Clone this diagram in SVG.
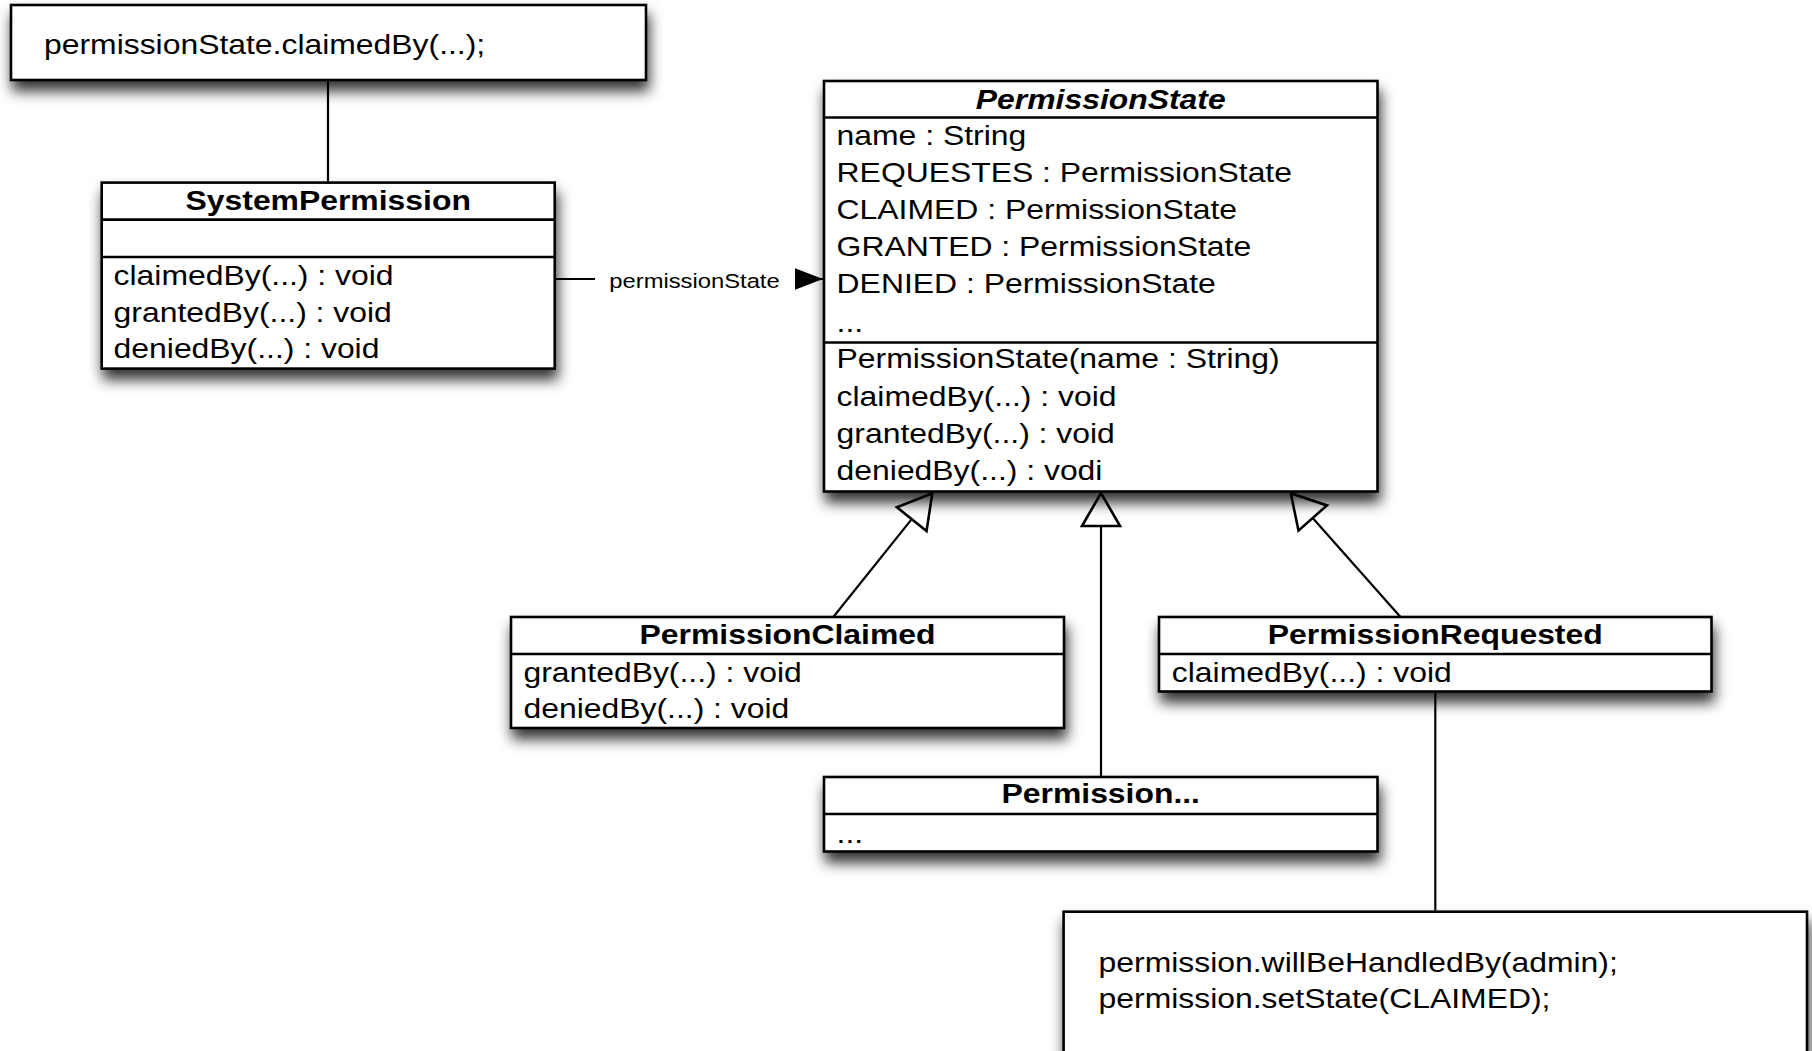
<svg xmlns="http://www.w3.org/2000/svg" width="1812" height="1051" viewBox="0 0 1812 1051">
<style>
  text { font-family: "Liberation Sans", Arial, Helvetica, sans-serif; font-size: 27.5px; fill: #000; }
  .title { font-weight: bold; text-anchor: middle; }
  .abs { font-style: italic; }
  .lbl { font-size: 20.5px; text-anchor: middle; }
  .box { fill: #fff; stroke: #000; stroke-width: 2.6; filter: url(#shadow); }
  .div { stroke: #000; stroke-width: 2.6; fill: none; }
  .edge { stroke: #000; stroke-width: 2.2; fill: none; }
</style>
<defs>
  <filter id="shadow" x="-10%" y="-20%" width="125%" height="160%">
    <feDropShadow dx="2" dy="10" stdDeviation="7" flood-color="#000" flood-opacity="0.8"/>
  </filter>
  <marker id="gen" markerUnits="userSpaceOnUse" markerWidth="40" markerHeight="44" viewBox="-2 -3 38 44" refX="0" refY="19" orient="auto" overflow="visible">
    <path d="M0,0 L33,19 L0,38 Z" fill="none" stroke="#000" stroke-width="2.6" stroke-linejoin="miter"/>
  </marker>
  <marker id="nav" markerUnits="userSpaceOnUse" markerWidth="28" markerHeight="22" viewBox="0 0 26 20" refX="26" refY="10" orient="auto">
    <path d="M0,0 L26,10 L0,20 Z" fill="#000"/>
  </marker>
</defs>

<g id="note-claimedBy">
  <rect class="box" x="11" y="5" width="635" height="75"/>
  <text transform="translate(44,54) scale(1.16,1)">permissionState.claimedBy(...);</text>
</g>

<g id="SystemPermission">
  <rect class="box" x="101.7" y="182.6" width="453" height="186"/>
  <line class="div" x1="101.7" y1="219.6" x2="554.7" y2="219.6"/>
  <line class="div" x1="101.7" y1="257" x2="554.7" y2="257"/>
  <text class="title" transform="translate(328.2,210) scale(1.16,1)">SystemPermission</text>
  <text transform="translate(113.6,285) scale(1.16,1)">claimedBy(...) : void</text>
  <text transform="translate(113.6,321.7) scale(1.16,1)">grantedBy(...) : void</text>
  <text transform="translate(113.6,358) scale(1.16,1)">deniedBy(...) : void</text>
</g>

<g id="PermissionState">
  <rect class="box" x="824" y="81" width="553.5" height="410.5"/>
  <line class="div" x1="824" y1="117.5" x2="1377.5" y2="117.5"/>
  <line class="div" x1="824" y1="342.5" x2="1377.5" y2="342.5"/>
  <text class="title abs" transform="translate(1100.75,108.5) scale(1.16,1)">PermissionState</text>
  <text transform="translate(836.6,145) scale(1.16,1)">name : String</text>
  <text transform="translate(836.6,182) scale(1.16,1)">REQUESTES : PermissionState</text>
  <text transform="translate(836.6,219) scale(1.16,1)">CLAIMED : PermissionState</text>
  <text transform="translate(836.6,256) scale(1.16,1)">GRANTED : PermissionState</text>
  <text transform="translate(836.6,292.7) scale(1.16,1)">DENIED : PermissionState</text>
  <text transform="translate(836.6,331.5) scale(1.16,1)">...</text>
  <text transform="translate(836.6,368) scale(1.16,1)">PermissionState(name : String)</text>
  <text transform="translate(836.6,405.5) scale(1.16,1)">claimedBy(...) : void</text>
  <text transform="translate(836.6,442.7) scale(1.16,1)">grantedBy(...) : void</text>
  <text transform="translate(836.6,480) scale(1.16,1)">deniedBy(...) : vodi</text>
</g>

<g id="PermissionClaimed">
  <rect class="box" x="511" y="617" width="553" height="111"/>
  <line class="div" x1="511" y1="654" x2="1064" y2="654"/>
  <text class="title" transform="translate(787.5,644) scale(1.16,1)">PermissionClaimed</text>
  <text transform="translate(523.5,681.7) scale(1.16,1)">grantedBy(...) : void</text>
  <text transform="translate(523.5,718) scale(1.16,1)">deniedBy(...) : void</text>
</g>

<g id="PermissionRequested">
  <rect class="box" x="1159" y="617" width="552.5" height="74.5"/>
  <line class="div" x1="1159" y1="654" x2="1711.5" y2="654"/>
  <text class="title" transform="translate(1435.25,644) scale(1.16,1)">PermissionRequested</text>
  <text transform="translate(1171.8,681.7) scale(1.16,1)">claimedBy(...) : void</text>
</g>

<g id="PermissionOther">
  <rect class="box" x="824" y="777" width="553.5" height="74.5"/>
  <line class="div" x1="824" y1="814" x2="1377.5" y2="814"/>
  <text class="title" transform="translate(1100.75,803) scale(1.16,1)">Permission...</text>
  <text transform="translate(836.6,842.7) scale(1.16,1)">...</text>
</g>

<g id="note-setState">
  <rect class="box" x="1063.6" y="911.7" width="743.4" height="170"/>
  <text transform="translate(1098.6,971.7) scale(1.16,1)">permission.willBeHandledBy(admin);</text>
  <text transform="translate(1098.6,1008.3) scale(1.16,1)">permission.setState(CLAIMED);</text>
</g>

<g id="connectors">
  <line class="edge" x1="328" y1="81.3" x2="328" y2="181.3"/>
  <line class="edge" x1="1435.3" y1="692.8" x2="1435.3" y2="910.4"/>
  <line class="edge" x1="556" y1="279" x2="823" y2="279" marker-end="url(#nav)"/>
  <rect x="595" y="264" width="200" height="30" fill="#fff"/>
  <text class="lbl" transform="translate(694.5,288) scale(1.16,1)">permissionState</text>
  <line class="edge" x1="833.5" y1="616.7" x2="911.7" y2="519.1" marker-end="url(#gen)"/>
  <line class="edge" x1="1101" y1="776" x2="1101" y2="526" marker-end="url(#gen)"/>
  <line class="edge" x1="1400.5" y1="617" x2="1312.7" y2="518" marker-end="url(#gen)"/>
</g>
</svg>
